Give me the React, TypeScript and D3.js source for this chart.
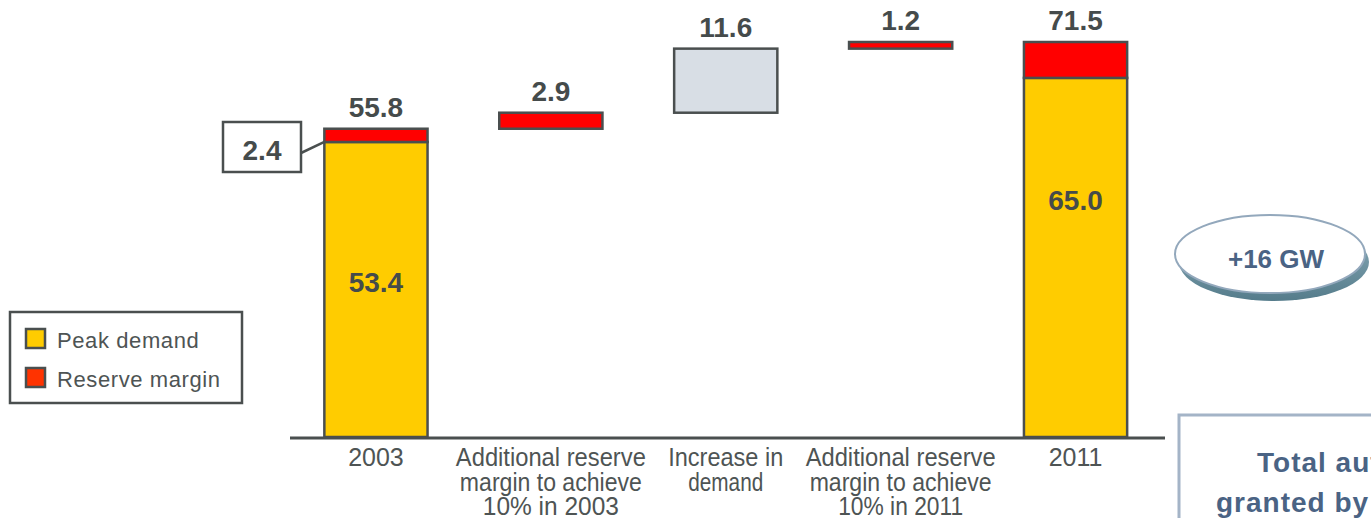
import React from "react";
import * as d3 from "d3";

// Waterfall of required generating capacity (GW), 2003 -> 2011
const categories = ["2003", "reserve2003", "demand", "reserve2011", "2011"];
const categoryLines = [
  ["2003"],
  ["Additional reserve", "margin to achieve", "10% in 2003"],
  ["Increase in", "demand"],
  ["Additional reserve", "margin to achieve", "10% in 2011"],
  ["2011"],
];
const totalYears = ["2003", "2011"];
const peakDemand = [53.4, 65.0];
const reserveMargin = [2.4, 6.5];
const totalLabels = ["55.8", "71.5"];
const innerLabels = ["53.4", "65.0"];
const increments = [2.9, 11.6, 1.2];
const incrementLabels = ["2.9", "11.6", "1.2"];
const incrementKinds = ["reserve", "demand", "reserve"];
const legendItems = ["Peak demand", "Reserve margin"];

const W = 1371;
const H = 518;
const INK = "#454b4b";
const CAPTION = "#4e5454";
const YELLOW = "#FFCC00";
const RED = "#FF0000";
const GREY_FILL = "#D8DEE5";
const NAVY = "#4a6384";

// per-line rendered widths for the condensed axis captions
const lineWidths: Record<string, number> = {
  "Additional reserve": 190,
  "margin to achieve": 182,
  "10% in 2003": 136,
  "10% in 2011": 125,
  "Increase in": 115,
  demand: 75,
};

export default function App() {
  const y = d3.scaleLinear().domain([0, 71.5]).range([437, 42]);
  const x = d3
    .scaleBand<string>()
    .domain(categories)
    .range([288.5, 1163])
    .paddingInner(0.41)
    .paddingOuter(0.205);
  const bw = x.bandwidth();

  // running base for the floating bars
  const start = peakDemand[0] + reserveMargin[0];
  let acc = start;
  const floats = increments.map((v, i) => {
    const lo = acc;
    acc += v;
    return { cat: categories[i + 1], lo, hi: acc, label: incrementLabels[i], kind: incrementKinds[i] };
  });

  const totals = totalYears.map((cat, i) => ({
    cat,
    peak: peakDemand[i],
    total: peakDemand[i] + reserveMargin[i],
    label: totalLabels[i],
    inner: innerLabels[i],
  }));
  // vertical placement of the inner value labels (data units)
  const innerAt = [28.1, 42.9];

  const stroke = { stroke: "#4a4f4f", strokeWidth: 2.5 };

  return (
    <svg
      width={W}
      height={H}
      style={{ position: "absolute", left: 0, top: 0, background: "#fff" }}
      fontFamily="'Liberation Sans', Arial, sans-serif"
    >
      <defs>
        <linearGradient id="shadowGrad" x1="0" y1="0" x2="0" y2="1">
          <stop offset="0" stopColor="#8fb0bd" />
          <stop offset="1" stopColor="#557c8b" />
        </linearGradient>
      </defs>

      {/* stacked totals */}
      {totals.map((t, i) => {
        const x0 = x(t.cat)!;
        return (
          <g key={t.cat}>
            <rect x={x0} y={y(t.peak)} width={bw} height={y(0) - y(t.peak)} fill={YELLOW} {...stroke} />
            <rect x={x0} y={y(t.total)} width={bw} height={y(t.peak) - y(t.total)} fill={RED} {...stroke} />
            <text
              x={x0 + bw / 2}
              y={y(t.total) - 12}
              textAnchor="middle"
              fontWeight="bold"
              fontSize={28}
              fill={INK}
            >
              {t.label}
            </text>
            <text
              x={x0 + bw / 2}
              y={y(innerAt[i])}
              dy="0.36em"
              textAnchor="middle"
              fontWeight="bold"
              fontSize={28}
              fill={INK}
            >
              {t.inner}
            </text>
          </g>
        );
      })}

      {/* floating increments */}
      {floats.map((f) => {
        const x0 = x(f.cat)!;
        return (
          <g key={f.cat}>
            <rect
              x={x0}
              y={y(f.hi)}
              width={bw}
              height={y(f.lo) - y(f.hi)}
              fill={f.kind === "reserve" ? RED : GREY_FILL}
              {...stroke}
            />
            <text
              x={x0 + bw / 2}
              y={y(f.hi) - 12}
              textAnchor="middle"
              fontWeight="bold"
              fontSize={28}
              fill={INK}
            >
              {f.label}
            </text>
          </g>
        );
      })}

      {/* callout for the 2003 reserve margin */}
      <g>
        <line x1={301} y1={153} x2={x("2003")!} y2={y(peakDemand[0])} {...stroke} />
        <rect x={223} y={122} width={78} height={50} fill="#fff" {...stroke} />
        <text x={262} y={160} textAnchor="middle" fontWeight="bold" fontSize={28} fill={INK}>
          {reserveMargin[0].toFixed(1)}
        </text>
      </g>

      {/* baseline axis */}
      <line x1={290} x2={1165} y1={y(0) + 1} y2={y(0) + 1} stroke="#4a4f4f" strokeWidth={3} />

      {/* category captions */}
      {categoryLines.map((lines, i) => {
        const cx = x(categories[i])! + bw / 2;
        return (
          <text key={i} fontSize={25} fill={CAPTION} textAnchor="middle">
            {lines.map((ln, j) => (
              <tspan
                key={j}
                x={cx}
                y={466 + j * 24.5}
                {...(lineWidths[ln] ? { textLength: lineWidths[ln], lengthAdjust: "spacingAndGlyphs" } : {})}
              >
                {ln}
              </tspan>
            ))}
          </text>
        );
      })}

      {/* legend */}
      <g>
        <rect x={10} y={312} width={232} height={91} fill="#fff" stroke="#4a4f4f" strokeWidth={2.5} />
        {legendItems.map((name, i) => (
          <g key={name}>
            <rect
              x={26}
              y={329 + i * 39}
              width={19}
              height={19}
              fill={i === 0 ? YELLOW : "#FF3300"}
              stroke="#4a4f4f"
              strokeWidth={2.5}
            />
            <text x={57} y={348 + i * 39} fontSize={22} letterSpacing={0.6} fill={CAPTION}>
              {name}
            </text>
          </g>
        ))}
      </g>

      {/* +16 GW badge */}
      <g>
        <ellipse cx={1274} cy={262} rx={95} ry={39} fill="url(#shadowGrad)" />
        <ellipse cx={1270} cy={254} rx={95} ry={39} fill="#fff" stroke="#93a8bc" strokeWidth={2} />
        <text x={1276} y={268} textAnchor="middle" fontWeight="bold" fontSize={26} fill={NAVY}>
          +16 GW
        </text>
      </g>

      {/* side note box */}
      <g>
        <rect x={1179} y={415} width={260} height={140} fill="#fff" stroke="#a4b4c7" strokeWidth={3} />
        <text x={1257} y={472} fontWeight="bold" fontSize={28} letterSpacing={1} fill={NAVY}>
          Total authorisations
        </text>
        <text x={1216} y={512} fontWeight="bold" fontSize={28} letterSpacing={1} fill={NAVY}>
          granted by the regulator
        </text>
      </g>
    </svg>
  );
}
